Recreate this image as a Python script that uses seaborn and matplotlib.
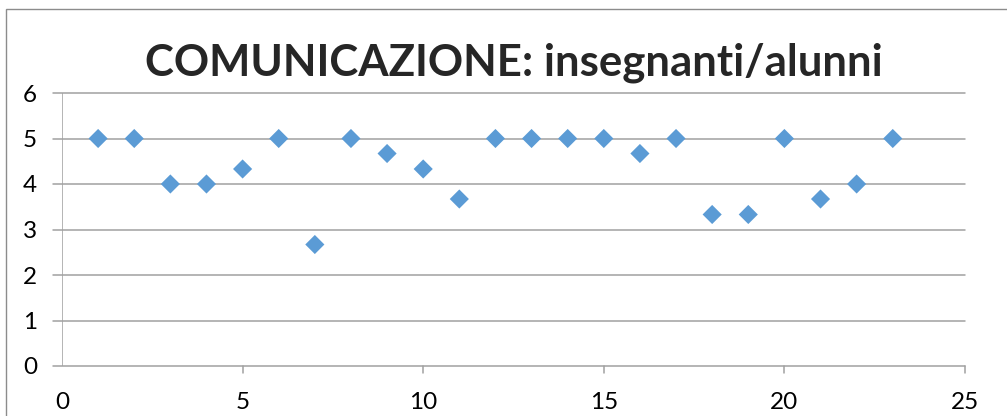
import numpy as np
import matplotlib
matplotlib.use("Agg")
import matplotlib.pyplot as plt
import pandas as pd
import seaborn as sns
from matplotlib.patches import Rectangle

# data
punti = list(range(1, 24))
valori = [5, 5, 4, 4, 4.33, 5, 2.67, 5, 4.67, 4.33, 3.67, 5, 5, 5, 5,
          4.67, 5, 3.33, 3.33, 5, 3.67, 4, 5]
x_ticks = [0, 5, 10, 15, 20, 25]
y_ticks = [0, 1, 2, 3, 4, 5, 6]
titolo = "COMUNICAZIONE: insegnanti/alunni"

sns.set_style("white")
plt.rcParams["font.family"] = ["Lato", "DejaVu Sans"]

W, H = 1007, 416
fig = plt.figure(figsize=(W / 100, H / 100), dpi=100)
ax = fig.add_axes([62 / W, (H - 366) / H, (965 - 62) / W, (366 - 93) / H])

df = pd.DataFrame({"x": punti, "y": valori})
grid_col = "#a0a0a0"
for yt in y_ticks:
    ax.plot([-9 / 903 * 25, 25], [yt, yt], color=grid_col, lw=1.1,
            clip_on=False, zorder=1)
ax.axvline(0, color=grid_col, lw=1.1, zorder=1)
for xt in x_ticks[1:]:
    ax.plot([xt, xt], [0, -7 / 273 * 6], color=grid_col, lw=1.1,
            clip_on=False, zorder=1)

sns.scatterplot(data=df, x="x", y="y", marker="D", s=95, color="#5b9bd5",
                edgecolor="none", ax=ax, zorder=3, clip_on=False)

ax.set_xlim(0, 25)
ax.set_ylim(0, 6)
ax.set_xticks(x_ticks)
ax.set_yticks(y_ticks)
ax.tick_params(axis="both", length=0, labelsize=17.5, colors="black")
ax.tick_params(axis="x", pad=19)
ax.tick_params(axis="y", pad=23)
for lab in ax.get_yticklabels():
    lab.set_horizontalalignment("center")
ax.set_xlabel("")
ax.set_ylabel("")
for s in ax.spines.values():
    s.set_visible(False)

fig.text(514 / W, 1 - 63 / H, titolo, ha="center", va="center",
         fontsize=31.5, fontweight="bold")

fig.patches.append(Rectangle((6 / W, -0.1), 1.2, (H - 9) / H + 0.1,
                             transform=fig.transFigure, fill=False,
                             edgecolor="#8c8c8c", lw=1.0))

fig.savefig("out.png", dpi=100)
